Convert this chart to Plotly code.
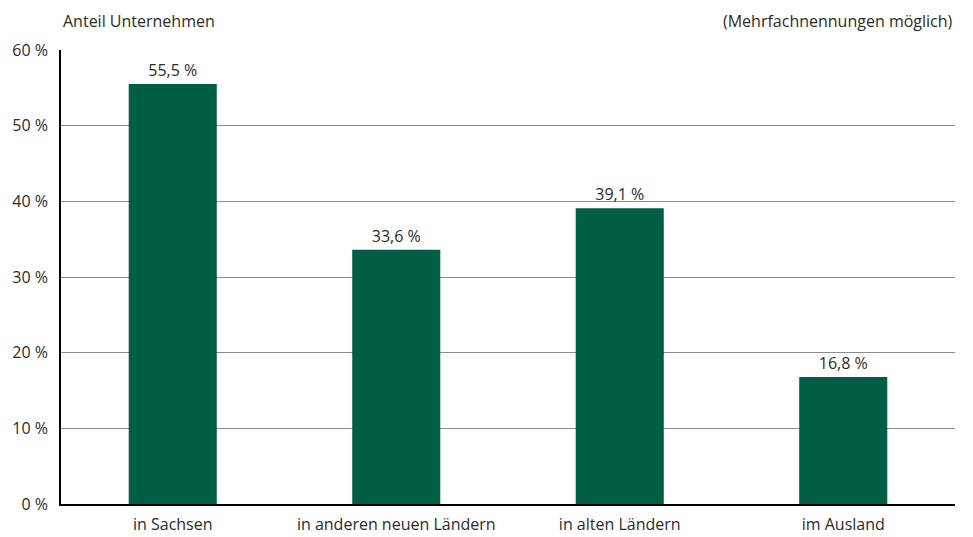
import plotly.graph_objects as go

categories = ["in Sachsen", "in anderen neuen Ländern", "in alten Ländern", "im Ausland"]
values = [55.5, 33.6, 39.1, 16.8]
value_labels = ["55,5 %", "33,6 %", "39,1 %", "16,8 %"]
tick_vals = [0, 10, 20, 30, 40, 50, 60]
tick_text = ["0 %", "10 %", "20 %", "30 %", "40 %", "50 %", "60 %"]

FONT = "Open Sans, Noto Sans, Liberation Sans, sans-serif"
TXT = "#2b2b2b"

fig = go.Figure(go.Bar(
    x=categories, y=values, text=value_labels, textposition="outside",
    textfont=dict(family=FONT, size=16, color=TXT),
    marker=dict(color="#005E44", line=dict(width=0)),
    cliponaxis=False,
))

fig.update_layout(
    width=965, height=529,
    margin=dict(l=53, r=18, t=42, b=33, autoexpand=False),
    paper_bgcolor="white", plot_bgcolor="white",
    bargap=0.606,
    showlegend=False,
    font=dict(family=FONT, size=16, color=TXT),
    xaxis=dict(showline=True, linecolor="black", linewidth=1.5, ticks="",
               tickfont=dict(size=16, color=TXT), showgrid=False,
               ticklabelstandoff=5),
    yaxis=dict(range=[0, 60], tickvals=tick_vals, ticktext=tick_text,
               showline=True, linecolor="black", linewidth=1.5,
               showgrid=True, gridcolor="#8c8c8c", gridwidth=1,
               zeroline=False, ticks="", ticklabelstandoff=8,
               tickfont=dict(size=16, color=TXT)),
    annotations=[
        dict(text="Anteil Unternehmen", xref="paper", yref="paper", x=0, y=1,
             xanchor="left", yanchor="bottom", yshift=16, showarrow=False,
             font=dict(size=16, color=TXT)),
        dict(text="(Mehrfachnennungen möglich)", xref="paper", yref="paper", x=1, y=1,
             xanchor="right", yanchor="bottom", yshift=16, showarrow=False,
             font=dict(size=16, color=TXT)),
    ],
)

fig.write_html("out.html")
